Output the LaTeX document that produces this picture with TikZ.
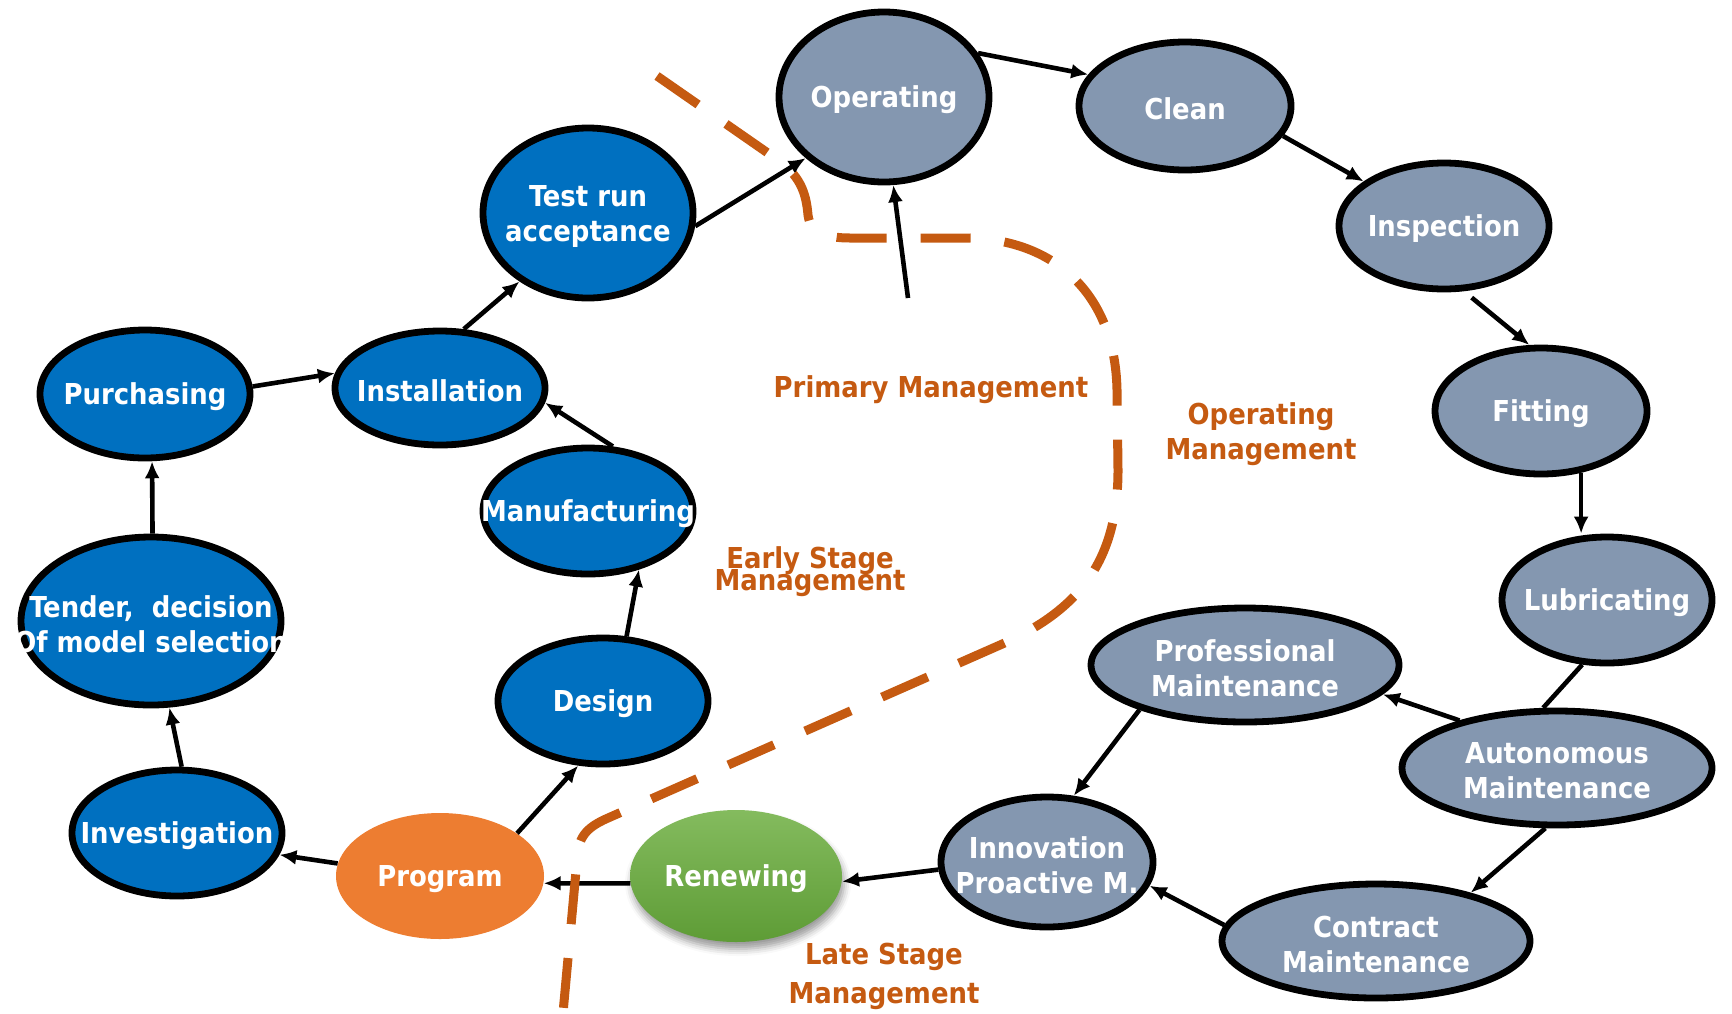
\documentclass[tikz,border=0pt]{standalone}
\usepackage{fontspec}
\newfontfamily\cf{DejaVu Sans Condensed Bold}
\usetikzlibrary{shapes.geometric,arrows.meta,shadows.blur}
\definecolor{nblue}{HTML}{0070C0}
\definecolor{ngray}{HTML}{8497B0}
\definecolor{norange}{HTML}{ED7D31}
\definecolor{gtop}{HTML}{84BB5E}
\definecolor{gbot}{HTML}{5E9C36}
\definecolor{ltxt}{HTML}{C55A11}
\begin{document}
\begin{tikzpicture}[x=0.5pt,y=-0.5pt,
 ell/.style={ellipse, draw=black, line width=3.4pt, inner sep=0pt},
 bnode/.style={ell, fill=nblue},
 gnode/.style={ell, fill=ngray},
 lab/.style={text=white, font=\cf\fontsize{14.4}{17.5}\selectfont, align=center, inner sep=0pt, yshift=-1.5pt},
 mtxt/.style={text=ltxt, font=\cf\fontsize{14.4}{17.5}\selectfont, align=center, inner sep=0pt},
 conn/.style={line width=2.3pt, -{Latex[length=8.5pt,width=7.5pt]}},
 sz/.style 2 args={minimum width=#1pt, minimum height=#2pt},
 dashline/.style={draw=ltxt, line width=4.5pt, dash pattern=on 25pt off 17pt},
]
\useasboundingbox (0,0) rectangle (1732,1013);
\node[bnode, sz={105}{85}, label={[lab]center:{Test run\\acceptance}}] (test) at (588,213) {};
\node[gnode, sz={105}{85}, label={[lab]center:Operating}] (op) at (884,97) {};
\node[gnode, sz={106}{64}, label={[lab]center:Clean}] (clean) at (1185,106) {};
\node[gnode, sz={105}{63}, label={[lab]center:Inspection}] (insp) at (1444,226) {};
\node[gnode, sz={106}{63}, label={[lab]center:Fitting}] (fit) at (1541,411) {};
\node[gnode, sz={105}{63}, label={[lab]center:Lubricating}] (lub) at (1607,600) {};
\node[gnode, sz={155}{57}, label={[lab]center:{Autonomous\\Maintenance}}] (auto) at (1557,768) {};
\node[gnode, sz={154}{57}, label={[lab]center:{Professional\\Maintenance}}] (prof) at (1245,665) {};
\node[gnode, sz={154}{57}, label={[lab]center:{Contract\\Maintenance}}] (con) at (1376,941) {};
\node[gnode, sz={106}{65}, label={[lab]center:{Innovation\\Proactive M.}}] (inn) at (1047,862) {};
\node[ellipse, inner sep=0pt, sz={106}{66}, top color=gtop, bottom color=gbot,
  blur shadow={shadow xshift=1pt, shadow yshift=-3.5pt, shadow blur radius=3.5pt},
  label={[lab]center:Renewing}] (ren) at (736,876) {};
\node[ellipse, inner sep=0pt, sz={104}{63}, fill=norange, label={[lab]center:Program}] (prog) at (440,876) {};
\node[bnode, sz={105}{63}, label={[lab]center:Investigation}] (inv) at (177,833) {};
\node[bnode, sz={130}{84}, label={[lab]center:{Tender,\ \ decision\\Of model selection}}] (ten) at (151,621) {};
\node[bnode, sz={105}{64}, label={[lab]center:Purchasing}] (pur) at (145,394) {};
\node[bnode, sz={105}{57}, label={[lab]center:Installation}] (ins) at (440,388) {};
\node[bnode, sz={105}{63}, label={[lab]center:Manufacturing}] (man) at (588,511) {};
\node[bnode, sz={105}{63}, label={[lab]center:Design}] (des) at (603,701) {};

\draw[conn] (test.-7) -- (op.218);
\draw[conn] (op.25) -- (clean.162);
\draw[conn] (clean.-17) -- (insp.151);
\draw[conn, shorten <=5pt] (insp.-73) -- (fit.100);
\draw[conn] (fit.-57) -- (fit.-57 |- lub.north);
\draw[line width=2.3pt] (lub.249) -- (auto.103);
\draw[conn] (auto.154) -- (prof.-12);
\draw[conn] (auto.-101) -- (con.27);
\draw[conn] (prof.-157) -- (inn.68);
\draw[conn] (con.174) -- (inn.-13);
\draw[conn] (inn.184) -- (ren.-3);
\draw[conn] (ren.184) -- (prog.-4);
\draw[conn] (prog.173) -- (inv.-12);
\draw[conn] (prog.29) -- (des.-111);
\draw[conn] (inv.86) -- (ten.-78);
\draw[conn] (ten.89) -- (pur.-84);
\draw[conn] (pur.4) -- (ins.172);
\draw[conn] (ins.68) -- (test.-135);
\draw[conn] (man.69) -- (ins.-8);
\draw[conn] (des.70) -- (man.-49);
\coordinate (pmtail) at (908,298);
\draw[conn] (pmtail) -- (op.-84);

\node[mtxt] (pm) at (931,390) {Primary Management};
\node[mtxt] (om) at (1261,434) {Operating\\Management};
\node[mtxt] (es1) at (810,561) {Early Stage};
\node[mtxt] (es2) at (810,583) {Management};
\node[mtxt, font=\cf\fontsize{14.4}{19.5}\selectfont] (ls) at (884,976) {Late Stage\\Management};

\draw[dashline] (657,76) -- (775,158) .. controls (800,175) and (806,192) .. (808,215)
  .. controls (810,232) and (825,238) .. (850,238) -- (965,238)
  .. controls (1050,238) and (1115,290) .. (1117,390) -- (1118,470)
  .. controls (1118,560) and (1080,610) .. (1000,645) -- (608,818)
  .. controls (585,828) and (578,838) .. (577,860) -- (563,1013);
\end{tikzpicture}
\end{document}
